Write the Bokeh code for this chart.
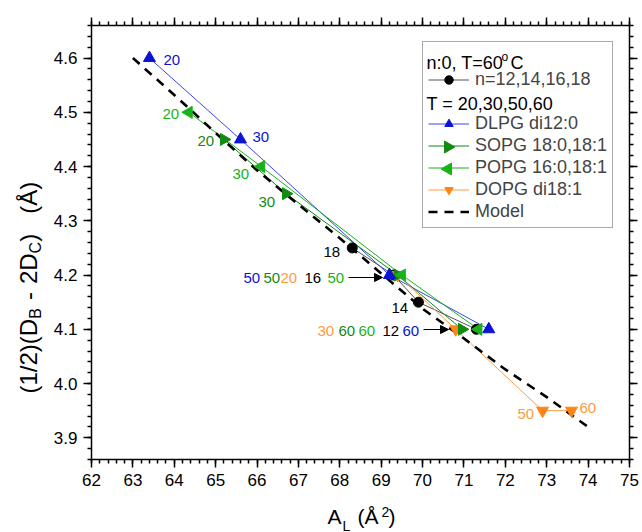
from bokeh.plotting import figure
from bokeh.models import (Range1d, LinearAxis, Legend, LegendItem, Label, Arrow,
                          NormalHead, ColumnDataSource, SingleIntervalTicker,
                          PrintfTickFormatter)
from bokeh.core.properties import value
from bokeh.embed import file_html
from bokeh.resources import INLINE

# ---------------- data ----------------
T_labels = ["20", "30", "50", "60"]
dlpg_A = [63.4, 65.6, 69.2, 71.6]
dlpg_D = [4.60, 4.45, 4.20, 4.10]
sopg_A = [65.2, 66.7, 69.4, 70.95]
sopg_D = [4.45, 4.35, 4.20, 4.10]
popg_A = [64.35, 66.1, 69.5, 71.35]
popg_D = [4.50, 4.40, 4.20, 4.10]
dopg_A = [69.4, 70.8, 72.9, 73.6]
dopg_D = [4.20, 4.10, 3.95, 3.95]
n_labels = ["18", "16", "14", "12"]
n_A = [68.3, 69.3, 69.9, 71.3]
n_D = [4.25, 4.20, 4.15, 4.10]
model_A = [63.0, 64.0, 65.0, 66.0, 67.0, 68.0, 69.0, 70.0, 71.0, 72.0, 73.0, 74.0]
model_D = [4.60, 4.532, 4.462, 4.393, 4.330, 4.268, 4.203, 4.138, 4.083, 4.026, 3.975, 3.92]
x_lo, x_hi = 62.0, 75.0
y_lo, y_hi = 3.86, 4.66

BLUE = "#0a14d2"
BLUE_L = "#3a46f0"
DGREEN = "#118a11"
LGREEN = "#19b219"
ORANGE = "#ff8418"
ORANGE_L = "#ff9a40"
BLACK = "#000000"
FONT = "Liberation Sans"

W, H = 642, 532
# axes box (pixels) inside the canvas
FL, FR, FT, FB = 91, 629, 25, 459
sx = (x_hi - x_lo) / (FR - FL)
sy = (y_hi - y_lo) / (FB - FT)
XS, XE = x_lo - FL * sx, x_hi + (W - FR) * sx
YS, YE = y_lo - (H - FB) * sy, y_hi + FT * sy


def dx(px):
    return XS + px * sx


def dy(py):
    return YE - py * sy


p = figure(width=W, height=H, x_range=Range1d(XS, XE), y_range=Range1d(YS, YE),
           output_backend="svg", toolbar_location=None, x_axis_type=None,
           y_axis_type=None, min_border_left=0, min_border_right=0,
           min_border_top=0, min_border_bottom=0, background_fill_color="white",
           border_fill_color="white")
p.grid.visible = False
p.outline_line_color = None

xt = SingleIntervalTicker(interval=1, num_minor_ticks=5)
yt = SingleIntervalTicker(interval=0.1, num_minor_ticks=5)


def make_axis(ticker, loc, bounds, labels, fmt):
    ax = LinearAxis(ticker=ticker, fixed_location=loc, bounds=bounds,
                    formatter=PrintfTickFormatter(format=fmt))
    ax.axis_line_width = 1.5
    ax.axis_line_color = "black"
    ax.major_tick_line_width = 1.5
    ax.minor_tick_line_width = 1.5
    ax.major_tick_out = 8
    ax.major_tick_in = 0
    ax.minor_tick_out = 4
    ax.minor_tick_in = 0
    ax.major_label_text_font = FONT
    ax.major_label_text_font_size = "17px"
    ax.major_label_text_color = "black" if labels else None
    ax.major_label_standoff = 6
    return ax


p.add_layout(make_axis(xt, y_lo, (x_lo, x_hi), True, "%d"), "below")
p.add_layout(make_axis(yt, x_lo, (y_lo, y_hi), True, "%.1f"), "left")
p.add_layout(make_axis(xt, y_hi, (x_lo, x_hi), False, "%d"), "above")
p.add_layout(make_axis(yt, x_hi, (y_lo, y_hi), False, "%.1f"), "right")

# ---------------- series ----------------
mk = 12
n_line = p.line(n_A, n_D, line_color="#555555", line_width=1)
dl_line = p.line(dlpg_A, dlpg_D, line_color=BLUE_L, line_width=1)
so_line = p.line(sopg_A, sopg_D, line_color=DGREEN, line_width=1)
po_line = p.line(popg_A, popg_D, line_color=LGREEN, line_width=1)
do_line = p.line(dopg_A, dopg_D, line_color=ORANGE_L, line_width=1)
model = p.line(model_A, model_D, line_color="black", line_width=2.6, line_dash="9 7")

n_pts = p.scatter(n_A, n_D, marker="circle", size=10, color=BLACK)
do_pts = p.scatter(dopg_A, dopg_D, marker="inverted_triangle", size=mk, color=ORANGE)
so_pts = p.scatter(sopg_A, sopg_D, marker="triangle", angle=-90, angle_units="deg",
                   size=mk, color=DGREEN)
po_pts = p.scatter(popg_A, popg_D, marker="triangle", angle=90, angle_units="deg",
                   size=mk, color=LGREEN)
dl_pts = p.scatter(dlpg_A, dlpg_D, marker="triangle", size=mk, color=BLUE)

# ---------------- point annotations ----------------
ann = [
    ("20", 163, 59, BLUE), ("30", 252, 136, BLUE),
    ("20", 162, 113, LGREEN), ("20", 197, 140, DGREEN),
    ("30", 232, 173, LGREEN), ("30", 258, 201, DGREEN),
    ("18", 323, 251, BLACK),
    ("50", 243, 277, BLUE), ("50", 263, 277, DGREEN), ("20", 280, 277, ORANGE_L),
    ("16", 304, 277, BLACK), ("50", 327, 277, LGREEN),
    ("14", 391, 307, BLACK),
    ("30", 317, 330, ORANGE_L), ("60", 338, 330, DGREEN), ("60", 358, 330, LGREEN),
    ("12", 382, 330, BLACK), ("60", 402, 330, BLUE),
    ("50", 517, 413, ORANGE_L), ("60", 579, 407, ORANGE_L),
]
src = ColumnDataSource(dict(x=[dx(a[1]) for a in ann], y=[dy(a[2]) for a in ann],
                            text=[a[0] for a in ann], color=[a[3] for a in ann]))
p.text(x="x", y="y", text="text", text_color="color", source=src,
       text_font=value(FONT), text_font_size="15px", text_baseline="middle",
       text_align="left")

for (xs, xe, yy) in [(348, 382, 277), (423, 448, 329)]:
    p.add_layout(Arrow(end=NormalHead(size=8, fill_color="black", line_color="black"),
                       x_start=dx(xs), y_start=dy(yy), x_end=dx(xe), y_end=dy(yy),
                       line_color="black", line_width=1))

# ---------------- legend ----------------
LEG_L, LEG_B = 422, 228
PAD, GW, GH, SP, NROWS = 5, 41, 21, 1, 8
LEG_T = LEG_B - (2 * PAD + NROWS * GH + (NROWS - 1) * SP)
dummy = p.scatter(x=[], y=[], alpha=0)
items = [
    LegendItem(label=" ", renderers=[dummy]),
    LegendItem(label="n=12,14,16,18", renderers=[n_line, n_pts]),
    LegendItem(label=" ", renderers=[dummy]),
    LegendItem(label="DLPG di12:0", renderers=[dl_line, dl_pts]),
    LegendItem(label="SOPG 18:0,18:1", renderers=[so_line]),
    LegendItem(label="POPG 16:0,18:1", renderers=[po_line]),
    LegendItem(label="DOPG di18:1", renderers=[do_line, do_pts]),
    LegendItem(label="Model", renderers=[model]),
]
legend = Legend(items=items, location=(LEG_L, H - LEG_B), glyph_width=GW,
                glyph_height=GH, label_height=GH, label_standoff=6, spacing=SP,
                padding=PAD, margin=0, label_text_font=FONT, label_text_font_size="18px",
                border_line_color="#555555", border_line_width=1,
                background_fill_alpha=0)
p.add_layout(legend)


def row_y(i):
    return LEG_T + PAD + GH / 2 + i * (GH + SP)


gx = LEG_L + PAD + GW / 2
p.scatter([dx(gx)], [dy(row_y(4))], marker="triangle", angle=-90, angle_units="deg",
          size=mk, color=DGREEN, level="overlay")
p.scatter([dx(gx)], [dy(row_y(5))], marker="triangle", angle=90, angle_units="deg",
          size=mk, color=LGREEN, level="overlay")


def txt(t, px, py, size, angle=0):
    p.add_layout(Label(x=dx(px), y=dy(py), text=t, text_font=FONT,
                       text_font_size=size, text_color="black", angle=angle,
                       angle_units="deg", text_baseline="middle", text_align="left",
                       level="overlay"))


# legend text-only rows
tx0 = LEG_L + PAD - 1
r0, r2 = row_y(0) + 4, row_y(2) + 1
txt("n:0, T=60", tx0, r0, "18px")
txt("o", tx0 + 75, r0 - 6, "12px")
txt("C", tx0 + 84, r0, "18px")
txt("T = 20,30,50,60", tx0, r2, "18px")

# x axis label: A_L (Å^2)
txt("A", 327, 515.5, "21px")
txt("L", 342, 525, "14px")
txt("(Å", 357, 515.5, "21px")
txt("2", 381, 511, "14px")
txt(")", 388, 515.5, "21px")

# y axis label: (1/2)(D_B - 2D_C)  (Å), rotated, pieces placed bottom to top
MAIN, SUB = 24, 16
mx, smx = 28, 35
yb = 393
pieces = [("(1/2)(D", MAIN, 0, 74.7), ("B", SUB, 0, 10.7), ("-", MAIN, 8, 8.0),
          ("2D", MAIN, 8, 30.7), ("C", SUB, 0, 11.6), (")", MAIN, 0, 8.0),
          ("(Å)", MAIN, 20, 32.0)]
for t, sz, gap, w in pieces:
    yb -= gap
    txt(t, mx if sz == MAIN else smx, yb, f"{sz}px", angle=90)
    yb -= w

open("out.html", "w").write(file_html(p, INLINE))
